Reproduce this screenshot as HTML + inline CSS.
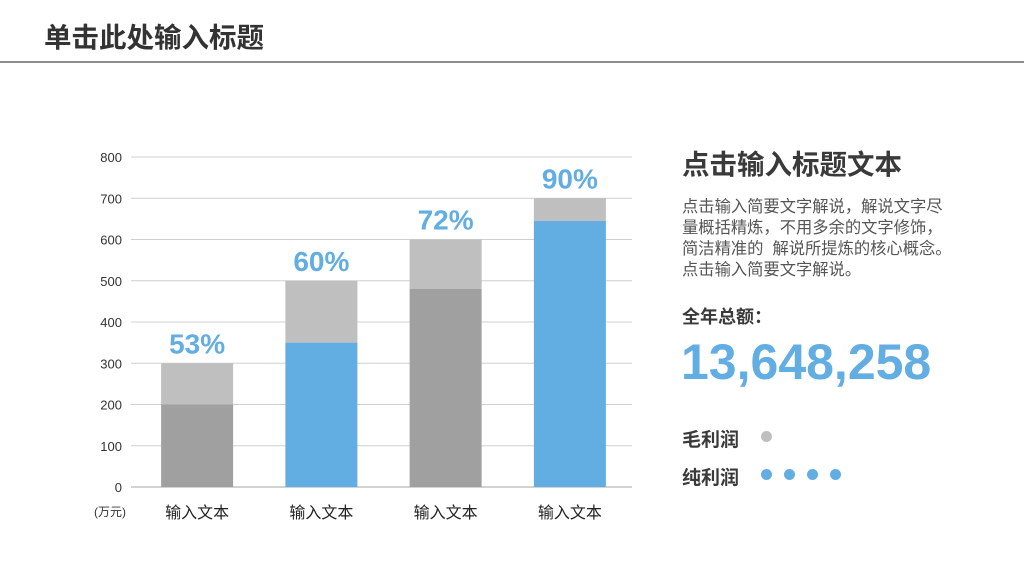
<!DOCTYPE html>
<html><head><meta charset="utf-8"><style>
body{margin:0;width:1024px;height:576px;background:#fff;position:relative;overflow:hidden;font-family:"Liberation Sans","Noto Sans CJK SC",sans-serif;}
.a{position:absolute;white-space:nowrap;}
</style></head><body>
<div class="a" style="left:44px;top:15px;font-size:27.5px;font-weight:bold;color:#333;">单击此处输入标题</div>
<div class="a" style="left:0;top:61px;width:1024px;height:2px;background:#8c8c8c;"></div>
<svg id="chart" width="1024" height="576" style="position:absolute;left:0;top:0"></svg>
<div class="a" style="left:682px;top:142px;font-size:27.5px;font-weight:bold;color:#3a3a3a;">点击输入标题文本</div>
<div class="a" style="left:682px;top:197px;font-size:16.3px;line-height:21px;color:#555;">点击输入简要文字解说，解说文字尽<br>量概括精炼，不用多余的文字修饰，<br>简洁精准的&nbsp;&nbsp;解说所提炼的核心概念。<br>点击输入简要文字解说。</div>
<div class="a" style="left:682px;top:303px;font-size:18px;font-weight:bold;color:#3a3a3a;">全年总额：</div>
<div class="a" style="left:681px;top:333px;font-size:50px;font-weight:bold;color:#62aee3;">13,648,258</div>
<div class="a" style="left:682px;top:425px;font-size:19px;font-weight:bold;color:#3a3a3a;">毛利润</div>
<div class="a" style="left:682px;top:463px;font-size:19px;font-weight:bold;color:#3a3a3a;">纯利润</div>
<div class="a" style="left:761px;top:431px;width:11px;height:11px;border-radius:50%;background:#bfbfbf;"></div>
<div class="a" style="left:761px;top:469px;">
<span style="position:absolute;left:0;width:11px;height:11px;border-radius:50%;background:#62aee3"></span>
<span style="position:absolute;left:23px;width:11px;height:11px;border-radius:50%;background:#62aee3"></span>
<span style="position:absolute;left:46px;width:11px;height:11px;border-radius:50%;background:#62aee3"></span>
<span style="position:absolute;left:69px;width:11px;height:11px;border-radius:50%;background:#62aee3"></span></div>
<script>
const categories=["输入文本","输入文本","输入文本","输入文本"];
const totals=[300,500,600,700];
const lowers=[200,350,480,645];
const percents=["53%","60%","72%","90%"];
const ticks=[0,100,200,300,400,500,600,700,800];
const svg=document.getElementById('chart');const NS='http://www.w3.org/2000/svg';
const y0=487,y1=157,x0=131,x1=632,bandStart=135,vmax=800;
const Y=v=>y0-(y0-y1)*v/vmax;
const band=(x1-bandStart)/categories.length;
const X=i=>bandStart+band*(i+0.5);
const bw=72;
function mk(t,a){const e=document.createElementNS(NS,t);for(const k in a)e.setAttribute(k,a[k]);svg.appendChild(e);return e;}
ticks.forEach(t=>{
 const l=mk('line',{x1:x0,x2:x1,y1:Y(t),y2:Y(t),stroke:t===0?'#a6a6a6':'#d0d0d0','stroke-width':1});
 
 
 const tx=mk('text',{x:122,y:Y(t)+5,'text-anchor':'end','font-size':13,fill:'#333','font-family':'Liberation Sans,sans-serif'});
 tx.textContent=t;
 
 
});
const u=mk('text',{x:110,y:516,'text-anchor':'middle','font-size':12,fill:'#333','font-family':'Liberation Sans,Noto Sans CJK SC,sans-serif'});u.textContent='(万元)';


categories.forEach((c,i)=>{
 const cx=X(i);const blue=i%2===1;
 const top=mk('rect',{x:cx-bw/2,y:Y(totals[i]),width:bw,height:Y(lowers[i])-Y(totals[i]),fill:'#bfbfbf'});
 
 
 const low=mk('rect',{x:cx-bw/2,y:Y(lowers[i]),width:bw,height:Y(0)-Y(lowers[i]),fill:blue?'#62aee3':'#a0a0a0'});
 
 
 const p=mk('text',{x:cx,y:Y(totals[i])-10,'text-anchor':'middle','font-size':28,'font-weight':'bold',fill:'#62aee3','font-family':'Liberation Sans,sans-serif'});p.textContent=percents[i];
 
 
 const t=mk('text',{x:cx,y:518,'text-anchor':'middle','font-size':16,fill:'#222','font-family':'Liberation Sans,Noto Sans CJK SC,sans-serif'});t.textContent=c;
 
 
});
</script>
</body></html>
